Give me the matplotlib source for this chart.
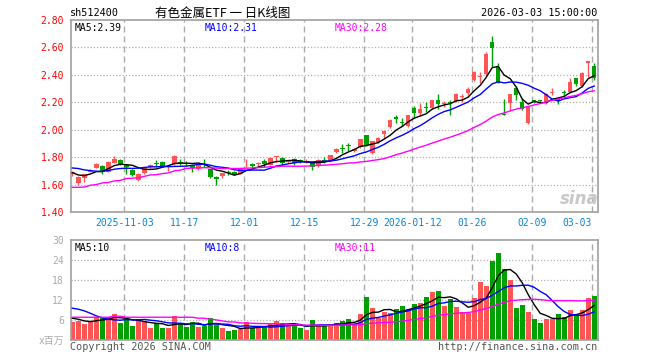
import numpy as np
import pandas as pd
import matplotlib
matplotlib.use('Agg')
import matplotlib.pyplot as plt

plt.rcParams['lines.scale_dashes'] = False
plt.rcParams['font.family'] = ['DejaVu Sans Mono', 'Noto Sans CJK SC']

# trading days shown
dates = ['2025-10-21', '2025-10-22', '2025-10-23', '2025-10-24', '2025-10-27', '2025-10-28',
         '2025-10-29', '2025-10-30', '2025-10-31', '2025-11-03', '2025-11-04', '2025-11-05',
         '2025-11-06', '2025-11-07', '2025-11-10', '2025-11-11', '2025-11-12', '2025-11-13',
         '2025-11-14', '2025-11-17', '2025-11-18', '2025-11-19', '2025-11-20', '2025-11-21',
         '2025-11-24', '2025-11-25', '2025-11-26', '2025-11-27', '2025-11-28', '2025-12-01',
         '2025-12-02', '2025-12-03', '2025-12-04', '2025-12-05', '2025-12-08', '2025-12-09',
         '2025-12-10', '2025-12-11', '2025-12-12', '2025-12-15', '2025-12-16', '2025-12-17',
         '2025-12-18', '2025-12-19', '2025-12-22', '2025-12-23', '2025-12-24', '2025-12-25',
         '2025-12-26', '2025-12-29', '2025-12-30', '2025-12-31', '2026-01-05', '2026-01-06',
         '2026-01-07', '2026-01-08', '2026-01-09', '2026-01-12', '2026-01-13', '2026-01-14',
         '2026-01-15', '2026-01-16', '2026-01-19', '2026-01-20', '2026-01-21', '2026-01-22',
         '2026-01-23', '2026-01-26', '2026-01-27', '2026-01-28', '2026-01-29', '2026-01-30',
         '2026-02-02', '2026-02-03', '2026-02-04', '2026-02-05', '2026-02-06', '2026-02-09',
         '2026-02-10', '2026-02-11', '2026-02-12', '2026-02-13', '2026-02-24', '2026-02-25',
         '2026-02-26', '2026-02-27', '2026-03-02', '2026-03-03']

opens = [1.68, 1.612, 1.65, 1.695, 1.723, 1.736, 1.694, 1.76, 1.78, 1.743,
         1.706, 1.632, 1.681, 1.726, 1.752, 1.765, 1.726, 1.75, 1.765, 1.752,
         1.746, 1.711, 1.758, 1.711, 1.655, 1.664, 1.688, 1.694, 1.68, 1.754,
         1.751, 1.749, 1.773, 1.743, 1.80, 1.795, 1.765, 1.785, 1.78, 1.765,
         1.757, 1.733, 1.782, 1.772, 1.835, 1.864, 1.888, 1.848, 1.876, 1.959,
         1.828, 1.913, 1.966, 2.022, 2.095, 2.052, 2.027, 2.155, 2.124, 2.162,
         2.155, 2.216, 2.188, 2.198, 2.209, 2.238, 2.27, 2.363, 2.386, 2.407,
         2.637, 2.456, 2.112, 2.198, 2.307, 2.205, 2.046, 2.212, 2.212, 2.198,
         2.268, 2.224, 2.272, 2.273, 2.376, 2.32, 2.49, 2.461]
highs = [1.70, 1.66, 1.68, 1.71, 1.755, 1.74, 1.77, 1.81, 1.785, 1.745,
         1.71, 1.685, 1.73, 1.75, 1.78, 1.77, 1.74, 1.815, 1.788, 1.77,
         1.75, 1.76, 1.788, 1.715, 1.66, 1.685, 1.705, 1.70, 1.715, 1.785,
         1.755, 1.768, 1.79, 1.80, 1.807, 1.80, 1.78, 1.793, 1.788, 1.785,
         1.76, 1.785, 1.80, 1.818, 1.865, 1.893, 1.90, 1.865, 1.935, 1.96,
         1.92, 1.95, 2.00, 2.075, 2.11, 2.087, 2.11, 2.17, 2.197, 2.20,
         2.22, 2.257, 2.21, 2.22, 2.27, 2.262, 2.31, 2.43, 2.424, 2.57,
         2.68, 2.485, 2.224, 2.26, 2.322, 2.229, 2.165, 2.22, 2.22, 2.265,
         2.302, 2.24, 2.29, 2.38, 2.38, 2.42, 2.50, 2.485]
lows = [1.66, 1.60, 1.62, 1.69, 1.72, 1.68, 1.69, 1.755, 1.745, 1.675,
        1.665, 1.625, 1.678, 1.72, 1.726, 1.728, 1.70, 1.745, 1.743, 1.735,
        1.69, 1.705, 1.726, 1.65, 1.60, 1.65, 1.667, 1.67, 1.675, 1.73,
        1.72, 1.73, 1.726, 1.74, 1.765, 1.745, 1.76, 1.745, 1.756, 1.76,
        1.705, 1.728, 1.756, 1.768, 1.83, 1.828, 1.845, 1.84, 1.87, 1.88,
        1.82, 1.905, 1.94, 2.015, 2.05, 2.027, 2.02, 2.087, 2.11, 2.13,
        2.15, 2.148, 2.165, 2.11, 2.205, 2.204, 2.25, 2.355, 2.344, 2.40,
        2.46, 2.34, 2.105, 2.139, 2.217, 2.144, 2.039, 2.195, 2.198, 2.19,
        2.254, 2.19, 2.246, 2.27, 2.32, 2.315, 2.388, 2.363]
closes = [1.69, 1.657, 1.677, 1.70, 1.748, 1.691, 1.765, 1.788, 1.75, 1.731,
          1.669, 1.68, 1.726, 1.746, 1.748, 1.731, 1.736, 1.805, 1.76, 1.748,
          1.72, 1.753, 1.754, 1.657, 1.643, 1.681, 1.684, 1.678, 1.711, 1.758,
          1.737, 1.753, 1.748, 1.795, 1.805, 1.756, 1.772, 1.756, 1.765, 1.772,
          1.731, 1.78, 1.77, 1.812, 1.86, 1.86, 1.884, 1.86, 1.93, 1.886,
          1.917, 1.937, 1.99, 2.07, 2.075, 2.048, 2.104, 2.124, 2.148, 2.158,
          2.216, 2.19, 2.192, 2.194, 2.262, 2.242, 2.30, 2.424, 2.39, 2.554,
          2.595, 2.344, 2.107, 2.259, 2.254, 2.151, 2.163, 2.208, 2.208, 2.261,
          2.272, 2.207, 2.268, 2.346, 2.332, 2.417, 2.498, 2.376]
# volume, millions
volumes = [5.6, 5.9, 4.9, 5.9, 6.9, 6.8, 6.9, 7.9, 5.2, 6.3,
           4.3, 6.3, 5.9, 3.7, 5.2, 3.7, 3.7, 7.3, 4.8, 4.0,
           5.5, 4.0, 4.4, 6.7, 4.6, 3.7, 2.8, 3.1, 3.3, 5.5,
           3.7, 3.7, 4.0, 4.9, 5.8, 5.2, 4.6, 4.3, 3.7, 3.1,
           6.1, 4.3, 4.3, 4.6, 5.1, 5.9, 6.4, 4.8, 7.9, 13.0,
           9.7, 6.7, 8.5, 8.2, 9.4, 10.3, 9.4, 10.9, 11.2, 13.0,
           14.5, 14.8, 10.3, 12.4, 10.0, 8.5, 8.2, 12.7, 17.5, 16.3,
           23.8, 26.2, 21.4, 18.1, 9.7, 10.6, 8.5, 6.4, 5.2, 6.4,
           6.4, 7.9, 7.0, 9.1, 7.9, 9.1, 12.7, 13.3]

# moving-average values at the left edge (earlier data is off-chart)
ma5_head = [1.687, 1.670, 1.665, 1.677]
ma10_head = [1.721, 1.717, 1.707, 1.702, 1.697, 1.697, 1.702, 1.712, 1.717]
ma30_head = [1.580, 1.580, 1.582, 1.595, 1.600, 1.612, 1.615, 1.627, 1.630, 1.644,
             1.646, 1.650, 1.660, 1.670, 1.672, 1.680, 1.685, 1.700, 1.705, 1.718,
             1.720, 1.722, 1.723, 1.722, 1.720, 1.718, 1.717, 1.717, 1.718]
vma5_head = [6.6, 6.3, 5.8, 5.6]
vma10_head = [9.6, 9.3, 8.8, 8.1, 7.3, 6.7, 6.3, 6.1, 6.0]
vma30_head = [6.9, 6.9, 6.9, 6.9, 6.9, 6.9, 6.9, 7.2, 7.2, 6.9,
              6.9, 6.9, 6.9, 6.9, 6.9, 6.9, 6.9, 6.9, 6.9, 6.9,
              6.9, 6.6, 6.6, 6.3, 6.1, 5.8, 5.5, 5.5, 5.2]

tick_dates = ['2025-11-03', '2025-11-17', '2025-12-01', '2025-12-15', '2025-12-29',
              '2026-01-12', '2026-01-26', '2026-02-09', '2026-03-03']
tick_labels = ['2025-11-03', '11-17', '12-01', '12-15', '12-29',
               '2026-01-12', '01-26', '02-09', '03-03']
price_ticks = [1.4, 1.6, 1.8, 2.0, 2.2, 2.4, 2.6, 2.8]
vol_ticks = [0, 6, 12, 18, 24, 30]
vol_tick_labels = ['x百万', '6', '12', '18', '24', '30']


def with_head(values, n, head):
    m = pd.Series(values).rolling(n).mean().to_numpy()
    m[:len(head)] = head
    return m


RED = '#ff5555'
GREEN = '#00a000'
GRID = '#aaaaaa'
FRAME = '#a0a0a0'

x = np.arange(len(closes))
o = np.array(opens)
c = np.array(closes)
up = c >= o
colors = np.where(up, RED, GREEN)

W, H = 660, 360
fig = plt.figure(figsize=(6.6, 3.6), dpi=100)


def box(l, t, r, b):
    return [l / W, 1 - b / H, (r - l) / W, (b - t) / H]


ax = fig.add_axes(box(71, 20, 597.5, 212))
axv = fig.add_axes(box(71, 240, 597.5, 340.3))

grid_x = [dates.index(d) - 0.33 for d in tick_dates]

for a in (ax, axv):
    a.set_xlim(-0.22, 87.55)
    for s in a.spines.values():
        s.set_color(FRAME)
        s.set_linewidth(1.2)
    a.tick_params(length=0)
    for gx in grid_x:
        a.axvline(gx, color=GRID, lw=1, ls=(0, (4.3, 2.9)), zorder=0)

# price panel
ax.set_ylim(1.4, 2.8)
for p in price_ticks[1:-1]:
    ax.axhline(p, color=GRID, lw=0.9, ls=(0, (0.8, 1.5)), zorder=0)
ax.vlines(x, lows, highs, colors=colors, lw=1, zorder=2)
body = np.maximum(np.abs(c - o), 0.006)
ax.bar(x, body, bottom=np.minimum(o, c), width=0.75, color=colors, lw=0, zorder=3)
ax.plot(x, with_head(closes, 5, ma5_head), color='black', lw=1, zorder=4)
ax.plot(x, with_head(closes, 10, ma10_head), color='#0000ff', lw=1, zorder=4)
ax.plot(x, with_head(closes, 30, ma30_head), color='#ff00ff', lw=1, zorder=4)
ax.set_yticks(price_ticks)
ax.set_yticklabels(['%.2f' % p for p in price_ticks], color='#ff0000', fontsize=7)
ax.tick_params(axis='y', pad=5)
ax.set_xticks(grid_x)
ax.set_xticklabels(tick_labels, color='#0a84d6', fontsize=7)
ax.tick_params(axis='x', pad=4)
ax.get_xticklabels()[-1].set_ha('right')

ax.text(0.007, 0.985, 'MA5:2.39', transform=ax.transAxes, fontsize=7, color='black', va='top')
ax.text(0.254, 0.985, 'MA10:2.31', transform=ax.transAxes, fontsize=7, color='#0000ff', va='top')
ax.text(0.501, 0.985, 'MA30:2.28', transform=ax.transAxes, fontsize=7, color='#ff00ff', va='top')
ax.text(0.965, 0.07, 'sina', transform=ax.transAxes, fontsize=12, color='#c8c8c8',
        style='italic', weight='bold', ha='center', va='center', family='DejaVu Sans')

# volume panel
axv.set_ylim(0, 30)
for v in vol_ticks[1:-1]:
    axv.axhline(v, color=GRID, lw=0.9, ls=(0, (0.8, 1.5)), zorder=0)
axv.bar(x, volumes, width=0.83, color=colors, lw=0, zorder=2)
axv.plot(x, with_head(volumes, 5, vma5_head), color='black', lw=1, zorder=4)
axv.plot(x, with_head(volumes, 10, vma10_head), color='#0000ff', lw=1, zorder=4)
axv.plot(x, with_head(volumes, 30, vma30_head), color='#ff00ff', lw=1, zorder=4)
axv.set_yticks(vol_ticks)
axv.set_yticklabels(vol_tick_labels, color='#aaaaaa', fontsize=7)
axv.tick_params(axis='y', pad=5)
axv.set_xticks([])

axv.text(0.007, 0.97, 'MA5:10', transform=axv.transAxes, fontsize=7, color='black', va='top')
axv.text(0.254, 0.97, 'MA10:8', transform=axv.transAxes, fontsize=7, color='#0000ff', va='top')
axv.text(0.501, 0.97, 'MA30:11', transform=axv.transAxes, fontsize=7, color='#ff00ff', va='top')

# header and footer
fig.text(70 / W, 1 - 13 / H, 'sh512400', fontsize=7.3, color='black', va='center')
fig.text(223 / W, 1 - 13 / H, '有色金属ETF 一 日K线图', fontsize=9, color='black',
         ha='center', va='center', family=['Noto Sans CJK SC', 'DejaVu Sans'])
fig.text(597 / W, 1 - 13 / H, '2026-03-03 15:00:00', fontsize=7.3, color='black',
         ha='right', va='center')
fig.text(70 / W, 1 - 347 / H, 'Copyright 2026 SINA.COM', fontsize=7.3, color='#555555',
         va='center')
fig.text(597 / W, 1 - 347 / H, 'http://finance.sina.com.cn', fontsize=7.3, color='#555555',
         ha='right', va='center')

fig.savefig('out.png', dpi=100)
